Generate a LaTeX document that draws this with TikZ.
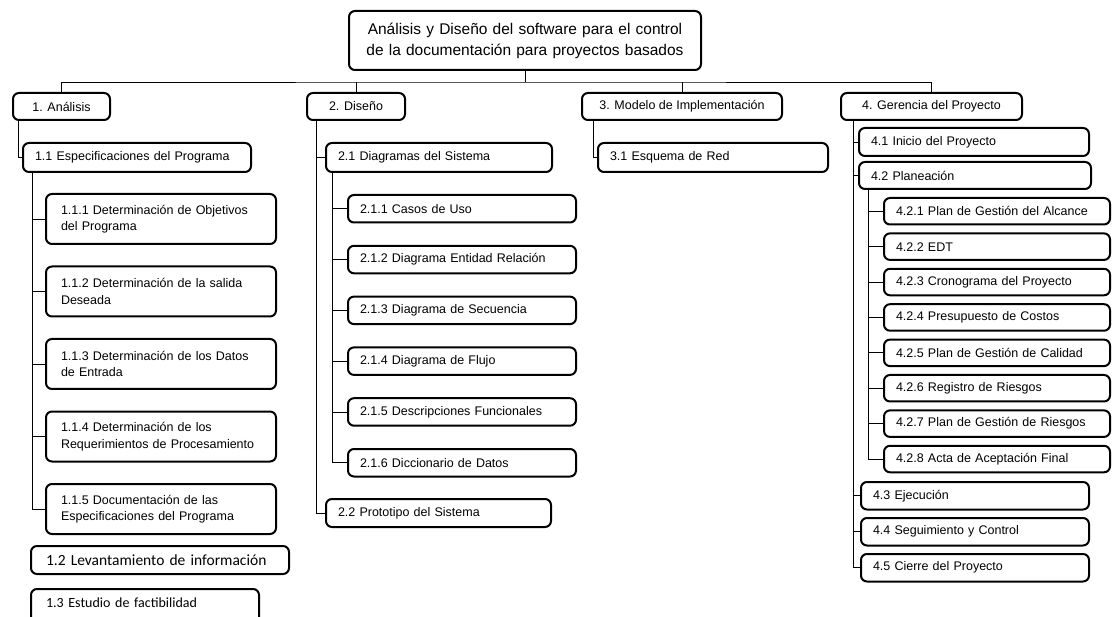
\documentclass[tikz,border=0pt]{standalone}
\usepackage{fontspec}
\setmainfont{Liberation Sans}
\newfontfamily\calibrifont{Carlito}
\usepackage{tikz}
\usetikzlibrary{positioning}

\begin{document}
\begin{tikzpicture}[
  x=1pt,y=-1pt,
  node distance=7pt,
  box/.style={draw,line width=2pt,rounded corners=6pt,anchor=north west,inner xsep=12pt,inner ysep=2pt,align=left,font=\fontsize{12.5}{16.5}\selectfont},
  head/.style={box,align=center,minimum height=27pt},
  spec/.style={box,inner xsep=15pt,text width=200pt,minimum height=50pt},
  diag/.style={box,text width=204pt,minimum height=27.5pt},
  plan/.style={box,text width=202pt,minimum height=26.5pt},
  gest/.style={box,text width=204pt,minimum height=27.5pt},
  link/.style={line width=0.8pt}
]
\clip (0,0) rectangle (1119,617);

\node[box,align=center,text width=328pt,minimum height=59pt,font=\fontsize{15.5}{21}\selectfont] (root) at (348,10) {Análisis y Diseño del software para el control\\de la documentación para proyectos basados};

\node[head,minimum width=97pt] (a1) at (12,92) {1. Análisis};
\node[head,minimum width=98pt] (a2) at (306,92) {2. Diseño};
\node[head,minimum width=200pt] (a3) at (581,92) {3. Modelo de Implementación};
\node[head,minimum width=181pt] (a4) at (840,92) {4. Gerencia del Proyecto};

% 1. Analisis
\node[box,text width=204pt,minimum height=29pt] (a11) at (22,142) {1.1 Especificaciones del Programa};
\node[spec] (a111) at (45,193) {1.1.1 Determinación de Objetivos\\del Programa};
\node[spec,below=20.5pt of a111] (a112) {1.1.2 Determinación de la salida\\Deseada};
\node[spec,below=20.5pt of a112] (a113) {1.1.3 Determinación de los Datos\\de Entrada};
\node[spec,below=20.5pt of a113] (a114) {1.1.4 Determinación de los\\Requerimientos de Procesamiento};
\node[spec,below=20.5pt of a114] (a115) {1.1.5 Documentación de las\\Especificaciones del Programa};
\node[box,inner xsep=15pt,text width=228pt,minimum height=28pt,font=\calibrifont\fontsize{15.5}{18}\selectfont] (a12) at (30,545) {1.2 Levantamiento de información};
\node[box,inner xsep=15pt,text width=198pt,minimum height=36pt,text depth=8pt,font=\calibrifont\fontsize{14}{17}\selectfont] (a13) at (30,588) {1.3 Estudio de factibilidad};

% 2. Diseno
\node[box,text width=202pt,minimum height=29pt] (a21) at (325,142) {2.1 Diagramas del Sistema};
\node[diag] (a211) at (347,194) {2.1.1 Casos de Uso};
\node[diag,below=21.3pt of a211] (a212) {2.1.2 Diagrama Entidad Relación};
\node[diag,below=21.3pt of a212] (a213) {2.1.3 Diagrama de Secuencia};
\node[diag,below=21.3pt of a213] (a214) {2.1.4 Diagrama de Flujo};
\node[diag,below=21.3pt of a214] (a215) {2.1.5 Descripciones Funcionales};
\node[diag,below=21.3pt of a215] (a216) {2.1.6 Diccionario de Datos};
\node[box,text width=201pt,minimum height=28pt] (a22) at (325,498) {2.2 Prototipo del Sistema};

% 3. Modelo
\node[box,text width=206pt,minimum height=29pt] (a31) at (597,142) {3.1 Esquema de Red};

% 4. Gerencia
\node[box,text width=206pt,minimum height=28pt] (a41) at (858,127) {4.1 Inicio del Proyecto};
\node[box,text width=208pt,minimum height=27pt] (a42) at (858,161) {4.2 Planeación};
\node[plan] (a421) at (883,197) {4.2.1 Plan de Gestión del Alcance};
\node[plan,below=6.9pt of a421] (a422) {4.2.2 EDT};
\node[plan,below=6.9pt of a422] (a423) {4.2.3 Cronograma del Proyecto};
\node[plan,below=6.9pt of a423] (a424) {4.2.4 Presupuesto de Costos};
\node[plan,below=6.9pt of a424] (a425) {4.2.5 Plan de Gestión de Calidad};
\node[plan,below=6.9pt of a425] (a426) {4.2.6 Registro de Riesgos};
\node[plan,below=6.9pt of a426] (a427) {4.2.7 Plan de Gestión de Riesgos};
\node[plan,below=6.9pt of a427] (a428) {4.2.8 Acta de Aceptación Final};
\node[gest] (a43) at (860,481) {4.3 Ejecución};
\node[gest,below=6.5pt of a43] (a44) {4.4 Seguimiento y Control};
\node[gest,below=6.5pt of a44] (a45) {4.5 Cierre del Proyecto};

\coordinate (bus) at (525,82);
\draw[link] (root.south) -- (root.south |- bus);
\draw[link] (a1.north) |- (bus) -| (a4.north);
\draw[link] (a2.north) -- (a2.north |- bus);
\draw[link] (a3.north) -- (a3.north |- bus);

\draw[link] ([xshift=6pt]a1.south west) |- (a11.west);
\draw[link] ([xshift=10pt]a11.south west) |- (a111.west);
\draw[link] ([xshift=10pt]a11.south west) |- (a112.west);
\draw[link] ([xshift=10pt]a11.south west) |- (a113.west);
\draw[link] ([xshift=10pt]a11.south west) |- (a114.west);
\draw[link] ([xshift=10pt]a11.south west) |- (a115.west);

\draw[link] ([xshift=10pt]a2.south west) |- (a21.west);
\draw[link] ([xshift=10pt]a2.south west) |- (a22.west);
\draw[link] ([xshift=7pt]a21.south west) |- (a211.west);
\draw[link] ([xshift=7pt]a21.south west) |- (a212.west);
\draw[link] ([xshift=7pt]a21.south west) |- (a213.west);
\draw[link] ([xshift=7pt]a21.south west) |- (a214.west);
\draw[link] ([xshift=7pt]a21.south west) |- (a215.west);
\draw[link] ([xshift=7pt]a21.south west) |- (a216.west);

\draw[link] ([xshift=12pt]a3.south west) |- (a31.west);

\draw[link] ([xshift=13pt]a4.south west) |- (a41.west);
\draw[link] ([xshift=13pt]a4.south west) |- (a42.west);
\draw[link] ([xshift=13pt]a4.south west) |- (a43.west);
\draw[link] ([xshift=13pt]a4.south west) |- (a44.west);
\draw[link] ([xshift=13pt]a4.south west) |- (a45.west);
\draw[link] ([xshift=10pt]a42.south west) |- (a421.west);
\draw[link] ([xshift=10pt]a42.south west) |- (a422.west);
\draw[link] ([xshift=10pt]a42.south west) |- (a423.west);
\draw[link] ([xshift=10pt]a42.south west) |- (a424.west);
\draw[link] ([xshift=10pt]a42.south west) |- (a425.west);
\draw[link] ([xshift=10pt]a42.south west) |- (a426.west);
\draw[link] ([xshift=10pt]a42.south west) |- (a427.west);
\draw[link] ([xshift=10pt]a42.south west) |- (a428.west);
\end{tikzpicture}
\end{document}
